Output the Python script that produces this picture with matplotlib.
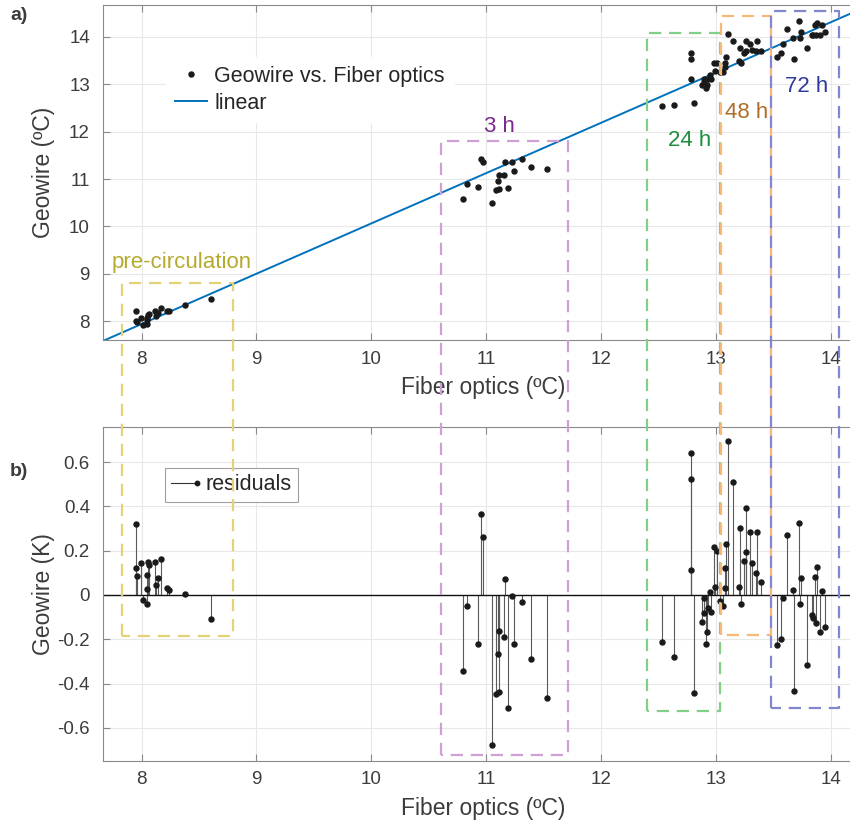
import numpy as np
import matplotlib
matplotlib.use("Agg")
import matplotlib.pyplot as plt
from matplotlib.lines import Line2D
from matplotlib.legend_handler import HandlerBase

plt.rcParams['font.family'] = ['Liberation Sans', 'DejaVu Sans']
plt.rcParams['axes.unicode_minus'] = False

# Fiber-optic temperature (ºC) for each Geowire reading
fiber = [
    7.955, 7.955, 7.964, 7.996, 8.010, 8.045, 8.045, 8.045, 8.054, 8.065, 8.115, 8.124, 8.144, 8.172, 8.225, 8.237, 8.376, 8.605,
    10.802, 10.834, 10.933, 10.953, 10.973, 11.052, 11.084, 11.101, 11.113, 11.113, 11.154, 11.165, 11.191, 11.223, 11.246, 11.313, 11.394, 11.533,
    12.532, 12.634, 12.782, 12.782, 12.782, 12.813, 12.880, 12.900, 12.900, 12.912, 12.921, 12.930, 12.950, 12.961, 12.982, 12.991, 13.011, 13.036,
    13.063, 13.083, 13.083, 13.092, 13.104, 13.153, 13.202, 13.214, 13.222, 13.246, 13.261, 13.261, 13.301, 13.313, 13.353, 13.362, 13.391,
    13.531, 13.571, 13.583, 13.623, 13.670, 13.681, 13.722, 13.734, 13.742, 13.792, 13.838, 13.849, 13.862, 13.873, 13.882, 13.911, 13.923, 13.951,
]

# Geowire temperature (ºC)
geowire = [
    8.21, 8.01, 7.99, 8.08, 7.93, 8.08, 8.02, 7.95, 8.14, 8.15, 8.21, 8.12, 8.17, 8.29, 8.21, 8.21, 8.34, 8.47,
    10.57, 10.90, 10.83, 11.43, 11.35, 10.50, 10.76, 10.96, 11.08, 10.80, 11.09, 11.37, 10.81, 11.35, 11.16, 11.42, 11.25, 11.22,
    12.53, 12.57, 13.65, 13.53, 13.12, 12.60, 12.99, 13.12, 13.05, 12.92, 12.99, 13.11, 13.20, 13.12, 13.44, 13.27, 13.45, 13.25,
    13.26, 13.36, 13.45, 13.57, 14.05, 13.91, 13.49, 13.77, 13.44, 13.65, 13.91, 13.71, 13.84, 13.72, 13.71, 13.91, 13.71,
    13.58, 13.65, 13.84, 14.17, 13.97, 13.53, 14.33, 13.98, 14.10, 13.76, 14.04, 14.04, 14.24, 14.04, 14.30, 14.04, 14.24, 14.10,
]

# Residuals of Geowire w.r.t. the linear fit (K)
residual = [
    0.319, 0.122, 0.086, 0.144, -0.021, 0.092, 0.027, -0.041, 0.147, 0.137, 0.149, 0.046, 0.077, 0.164, 0.033, 0.021, 0.003, -0.110,
    -0.345, -0.048, -0.221, 0.364, 0.263, -0.676, -0.446, -0.268, -0.161, -0.438, -0.191, 0.074, -0.510, -0.003, -0.221, -0.033, -0.289, -0.464,
    -0.212, -0.279, 0.641, 0.522, 0.114, -0.444, -0.124, -0.012, -0.080, -0.223, -0.166, -0.059, 0.012, -0.077, 0.217, 0.036, 0.199, -0.029,
    -0.051, 0.032, 0.123, 0.232, 0.695, 0.510, 0.036, 0.301, -0.039, 0.152, 0.393, 0.196, 0.284, 0.143, 0.099, 0.286, 0.057,
    -0.224, -0.200, -0.014, 0.272, 0.023, -0.435, 0.323, -0.042, 0.078, -0.316, -0.092, -0.104, 0.083, -0.125, 0.128, -0.167, 0.019, -0.145,
]

# Measurement phases: name, fiber range, top in panel a, bottom in panel b
phase_names = ['pre-circulation', '3 h', '24 h', '48 h', '72 h']
phase_x0 = [7.826, 10.605, 12.400, 13.048, 13.485]
phase_x1 = [8.793, 11.710, 13.035, 13.485, 14.070]
phase_top = [8.81, 11.80, 14.07, 14.435, 14.55]
phase_bottom = [-0.184, -0.721, -0.522, -0.179, -0.512]
phase_label_x = [8.345, 11.12, 12.776, 13.272, 13.794]
phase_label_y = [9.25, 12.10, 11.82, 12.41, 12.96]
phase_text_color = ['#b5aa2e', '#7b2a8c', '#1b8f3c', '#ae6d2c', '#2f3b9b']
phase_edge_color = ['#e3d276', '#cf9fd5', '#82cf88', '#f6b97a', '#8087cc']

fiber = np.array(fiber)
geowire = np.array(geowire)
residual = np.array(residual)

W, H = 850, 826
fig = plt.figure(figsize=(W / 100, H / 100), dpi=100)


def px_rect(left, top, right, bottom):
    return [left / W, 1 - bottom / H, (right - left) / W, (bottom - top) / H]


ax1 = fig.add_axes(px_rect(102.5, 5, 863.8, 340.3))
ax2 = fig.add_axes(px_rect(102.5, 426.7, 863.8, 761))

text_c = '#3c3c3c'
spine_c = '#8a8a8a'
for ax in (ax1, ax2):
    ax.set_xlim(7.66, 14.29)
    ax.set_xticks(range(8, 15))
    ax.grid(True, color='#e8e8e8', lw=0.8)
    ax.set_axisbelow(True)
    ax.tick_params(direction='in', length=5, width=0.8, color=spine_c,
                   labelcolor=text_c, labelsize=13.5, top=True, right=False)
    ax.tick_params(axis='x', pad=7.5)
    ax.tick_params(axis='y', pad=9)
    for side in ('left', 'bottom', 'top'):
        ax.spines[side].set_color(spine_c)
        ax.spines[side].set_linewidth(0.8)
    ax.spines['right'].set_visible(False)
    ax.set_xlabel('Fiber optics (ºC)', fontsize=16.5, color=text_c, labelpad=6)

# Panel a: scatter and linear fit
ax1.set_ylim(7.6, 14.67)
ax1.set_yticks(range(8, 15))
slope, intercept = np.polyfit(fiber, geowire, 1)
xs = np.array(ax1.get_xlim())
pts, = ax1.plot(fiber, geowire, 'o', ms=3.6, color='#1a1a1a', ls='', zorder=3,
                label='Geowire vs. Fiber optics')
fit, = ax1.plot(xs, intercept + slope * xs, color='#0072BD', lw=1.4, zorder=2,
                label='linear')
ax1.set_ylabel('Geowire (ºC)', fontsize=16.5, color=text_c)
ax1.yaxis.set_label_coords(-0.063, 0.5)
leg1 = ax1.legend(handles=[pts, fit], loc='upper left', bbox_to_anchor=(0.0834, 0.845),
                  fontsize=15.5, frameon=True, fancybox=False, edgecolor='#ffffff',
                  framealpha=1, handlelength=1.5, borderpad=0.4, labelspacing=0.29,
                  handletextpad=0.35, borderaxespad=0)
for t in leg1.get_texts():
    t.set_color('#262626')

# Panel b: residual stems
ax2.set_ylim(-0.75, 0.76)
ax2.set_yticks(np.round(np.arange(-0.6, 0.61, 0.2), 1))
ax2.set_yticklabels(['-0.6', '-0.4', '-0.2', '0', '0.2', '0.4', '0.6'])
ax2.vlines(fiber, 0, residual, color='#5a5a5a', lw=0.8, zorder=2)
ax2.plot(fiber, residual, 'o', ms=3.6, color='#1a1a1a', ls='', zorder=3)
ax2.axhline(0, color='#111111', lw=1.0, zorder=2)
ax2.set_ylabel('Geowire (K)', fontsize=16.5, color=text_c)
ax2.yaxis.set_label_coords(-0.063, 0.5)


class StemHandler(HandlerBase):
    def create_artists(self, legend, orig_handle, xdescent, ydescent, width,
                       height, fontsize, trans):
        y = height / 2 - ydescent
        line = Line2D([-xdescent, width - xdescent], [y, y], color='#333333', lw=0.8)
        dot = Line2D([width - xdescent], [y], marker='o', ms=3.2, color='#1a1a1a', ls='')
        line.set_transform(trans)
        dot.set_transform(trans)
        return [line, dot]


stem_proxy = Line2D([], [], color='k')
leg2 = ax2.legend([stem_proxy], ['residuals'], handler_map={Line2D: StemHandler()},
                  loc='upper left', bbox_to_anchor=(0.082, 0.8765), fontsize=15.5,
                  frameon=True, fancybox=False, edgecolor='#a0a0a0', framealpha=1,
                  handlelength=1.2, borderpad=0.3, handletextpad=0.4, borderaxespad=0)
leg2.get_frame().set_linewidth(0.8)
for t in leg2.get_texts():
    t.set_color('#262626')

# Dashed phase boxes spanning both panels


def to_fig(ax, x, y):
    return fig.transFigure.inverted().transform(ax.transData.transform((x, y)))


for name, x0, x1, top, bot, lx, ly, tc, ec in zip(
        phase_names, phase_x0, phase_x1, phase_top, phase_bottom,
        phase_label_x, phase_label_y, phase_text_color, phase_edge_color):
    tl = to_fig(ax1, x0, top)
    tr = to_fig(ax1, x1, top)
    bl = to_fig(ax2, x0, bot)
    br = to_fig(ax2, x1, bot)
    xs_box = [bl[0], tl[0], tr[0], br[0], bl[0]]
    ys_box = [bl[1], tl[1], tr[1], br[1], bl[1]]
    fig.add_artist(Line2D(xs_box, ys_box, transform=fig.transFigure, color=ec,
                          lw=1.6, dashes=(5.5, 3.5), zorder=5))
    ax1.text(lx, ly, name, color=tc, fontsize=16, ha='center', va='center', zorder=6)

fig.text(10 / W, 1 - 16 / H, 'a)', fontsize=14, fontweight='bold', color=text_c,
         ha='left', va='center')
fig.text(10 / W, 1 - 472 / H, 'b)', fontsize=14, fontweight='bold', color=text_c,
         ha='left', va='center')

fig.savefig('out.png', dpi=100)
